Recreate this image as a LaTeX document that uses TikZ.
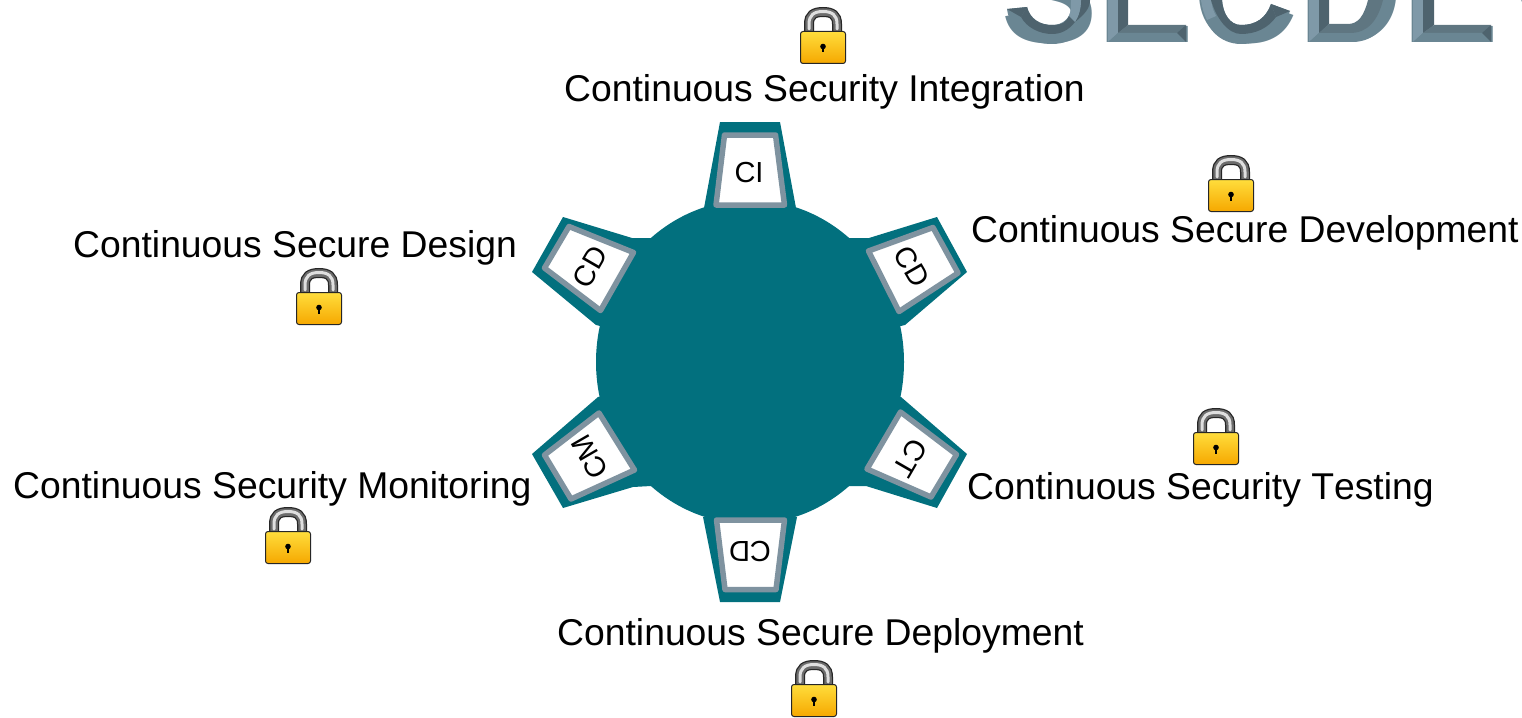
\documentclass[tikz,border=0pt]{standalone}
\usepackage{fontspec}
\setmainfont{Liberation Sans}
\definecolor{teal1}{HTML}{02707E}
\definecolor{frame1}{HTML}{7F93A0}
\definecolor{bevM}{HTML}{6A8693}
\definecolor{bevL}{HTML}{7F99A8}
\definecolor{bevD}{HTML}{4E636E}
\definecolor{bevB}{HTML}{5F7681}
\definecolor{lockTop}{HTML}{FFDD3C}
\definecolor{lockBot}{HTML}{F6A800}
\newcommand{\lockicon}[2]{%
 \begin{scope}[shift={(#1,#2)}]
  \draw[line width=10,black!85] (9,26) -- (9,17) .. controls (9,8) and (14,5) .. (23,5) .. controls (32,5) and (37,8) .. (37,17) -- (37,26);
  \draw[line width=7.5,gray!85!black] (9,26) -- (9,17) .. controls (9,8) and (14,5) .. (23,5) .. controls (32,5) and (37,8) .. (37,17) -- (37,26);
  \draw[line width=3,gray!25,line cap=round] (9,22) -- (9,17) .. controls (9,8) and (14,4.5) .. (23,4.5) .. controls (32,4.5) and (37,8) .. (37,17) -- (37,22);
  \draw[draw=black!85,line width=1,rounded corners=2.5,top color=lockTop,bottom color=lockBot] (0.5,24.5) rectangle (45.5,56.5);
  \fill[black] (23,39.5) circle (2.8);
  \fill[black] (21.9,40) -- (24.1,40) -- (24.1,45.5) -- (21.9,45.5) -- cycle;
 \end{scope}}
\tikzset{
 tooth/.style={fill=teal1,draw=none},
 plate/.style={fill=white,draw=frame1,line width=5.5,line join=round},
 platelabel/.style={inner sep=0,font=\fontsize{29}{29}\selectfont},
 caption/.style={inner sep=0,anchor=base west,font=\fontsize{37.3}{38}\selectfont}
}
\begin{document}
\begin{tikzpicture}[x=1pt,y=-1pt]
\useasboundingbox (0,0) rectangle (1522,717);
\begin{scope}
\clip (0,0) rectangle (1522,717);
% title
\node[inner sep=0,anchor=base west,text=bevM,font=\bfseries\fontsize{144.5}{145}\selectfont] (title) at (1001,42) {SECDEV};
% S
\fill[bevM] (1007,9) .. controls (1010,32) and (1030,44) .. (1052,44) .. controls (1075,44) and (1090,28) .. (1090,0) -- (1071,0) -- (1071,7) .. controls (1071,18) and (1063,25) .. (1052,25) .. controls (1040,25) and (1030,19) .. (1027,7) -- cycle;
\fill[bevD] (1007,9) -- (1027,7) -- (1021,17) -- cycle;
\fill[bevD] (1027,7) .. controls (1030,19) and (1040,25) .. (1052,25) .. controls (1063,25) and (1066,22) .. (1069,16) -- (1075,22) .. controls (1068,31) and (1060,34) .. (1052,34) .. controls (1040,34) and (1027,28) .. (1021,17) -- cycle;
\fill[bevD] (1081,0) .. controls (1081,8) and (1079,16) .. (1075,22) .. controls (1085,14) and (1090,8) .. (1090,0) -- cycle;
\fill[bevL] (1071,0) -- (1081,0) .. controls (1081,8) and (1079,16) .. (1075,22) -- (1069,16) .. controls (1071,12) and (1071,6) .. (1071,0) -- cycle;
% E1
\fill[bevL] (1108,0) -- (1118,0) -- (1118,33) -- (1108,42) -- cycle;
\fill[bevD] (1118,0) -- (1128,0) -- (1128,25) -- (1118,33) -- cycle;
\fill[bevB] (1118,33) -- (1177,33) -- (1186,25) -- (1128,25) -- cycle;
\fill[bevM] (1108,42) -- (1186,42) -- (1177,33) -- (1118,33) -- cycle;
\fill[bevD] (1186,25) -- (1186,42) -- (1177,33) -- cycle;
% C
\fill[bevM] (1201,0) .. controls (1203,28) and (1220,44) .. (1241,44) .. controls (1264,44) and (1282,32) .. (1290,11) -- (1271,4) .. controls (1266,18) and (1256,25) .. (1241,25) .. controls (1230,25) and (1223,14) .. (1222,0) -- cycle;
\fill[bevL] (1201,0) .. controls (1202,8) and (1204,14) .. (1207,20) -- (1216,16) .. controls (1213,11) and (1212,6) .. (1211,0) -- cycle;
\fill[bevD] (1211,0) -- (1222,0) .. controls (1223,14) and (1230,25) .. (1241,25) .. controls (1256,25) and (1266,18) .. (1271,4) -- (1276,17) .. controls (1268,28) and (1256,34) .. (1241,34) .. controls (1228,34) and (1216,18) .. (1211,0) -- cycle;
\fill[bevD] (1276,17) -- (1290,11) -- (1271,4) -- cycle;
% D
\fill[bevL] (1309,0) -- (1319,0) -- (1319,33) -- (1309,42) -- cycle;
\fill[bevD] (1319,0) -- (1329,0) -- (1329,24) -- (1319,33) -- cycle;
\fill[bevM] (1309,42) -- (1352,42) .. controls (1375,42) and (1390,25) .. (1395,0) -- (1383,0) .. controls (1378,20) and (1368,33) .. (1350,33) -- (1319,33) -- cycle;
\fill[bevB] (1319,33) -- (1350,33) .. controls (1368,33) and (1378,20) .. (1383,0) -- (1368,0) .. controls (1364,16) and (1358,24) .. (1348,24) -- (1329,24) -- cycle;
% E2
\fill[bevL] (1413,0) -- (1423,0) -- (1423,33) -- (1413,42) -- cycle;
\fill[bevD] (1423,0) -- (1434,0) -- (1434,25) -- (1423,33) -- cycle;
\fill[bevB] (1423,33) -- (1482,33) -- (1491,25) -- (1434,25) -- cycle;
\fill[bevM] (1413,42) -- (1491,42) -- (1482,33) -- (1423,33) -- cycle;
\fill[bevD] (1491,25) -- (1491,42) -- (1482,33) -- cycle;
\end{scope}
% wheel
\fill[tooth] (750,362) ellipse [x radius=154,y radius=162];
\fill[tooth] (720,122) -- (780,122) -- (796,208) -- (704,208) -- cycle;
\fill[tooth] (937,217) -- (967,272) -- (905,325) -- (750,362) -- (849,238) -- (869,238) -- cycle;
\fill[tooth] (967,454) -- (937,508) -- (866,486) -- (849,486) -- (750,362) -- (901,397) -- cycle;
\fill[tooth] (780,602) -- (720,602) -- (703,517) -- (797,517) -- cycle;
\fill[tooth] (532,454) -- (563,508) -- (633,487) -- (651,486) -- (750,362) -- (598,397) -- cycle;
\fill[tooth] (532,272) -- (563,217) -- (632,238) -- (651,238) -- (750,362) -- (596,325) -- cycle;
\draw[plate] (724.5,135) -- (775.5,135) -- (784.5,205) -- (716,205) -- cycle;
\draw[plate] (933,227.5) -- (958,273) -- (899,311.5) -- (868.5,251) -- cycle;
\draw[plate] (900.5,412) -- (956.5,454.5) -- (931,497) -- (867,469) -- cycle;
\draw[plate] (716.5,520) -- (784.5,520) -- (776,589.5) -- (725,589.5) -- cycle;
\draw[plate] (599,413) -- (544.5,455) -- (571,499) -- (634.5,470) -- cycle;
\draw[plate] (569,226.5) -- (544.5,268) -- (600.5,310.5) -- (633.5,252.5) -- cycle;
\node[platelabel] (ci) at (749,173) {CI};
\node[platelabel,rotate=-60] (cdr) at (912,267) {CD};
\node[platelabel,rotate=-120] (ct) at (910,458) {CT};
\node[platelabel,rotate=180] (cdb) at (750,551) {CD};
\node[platelabel,rotate=120] (cm) at (590,457) {CM};
\node[platelabel,rotate=60] (cdl) at (590,267) {CD};
% captions
\node[caption] (t1) at (564,101) {Continuous Security Integration};
\node[caption] (t2) at (971,242) {Continuous Secure Development};
\node[caption] (t3) at (73,257) {Continuous Secure Design};
\node[caption] (t4) at (13,498) {Continuous Security Monitoring};
\node[caption] (t5) at (967,499) {\addfontfeatures{Kerning=Off}Continuous Security Testing};
\node[caption] (t6) at (557,645) {Continuous Secure Deployment};
% locks
\lockicon{800}{7}
\lockicon{1208}{155}
\lockicon{296}{268}
\lockicon{1193}{408}
\lockicon{265}{507}
\lockicon{791}{660}
\end{tikzpicture}
\end{document}
